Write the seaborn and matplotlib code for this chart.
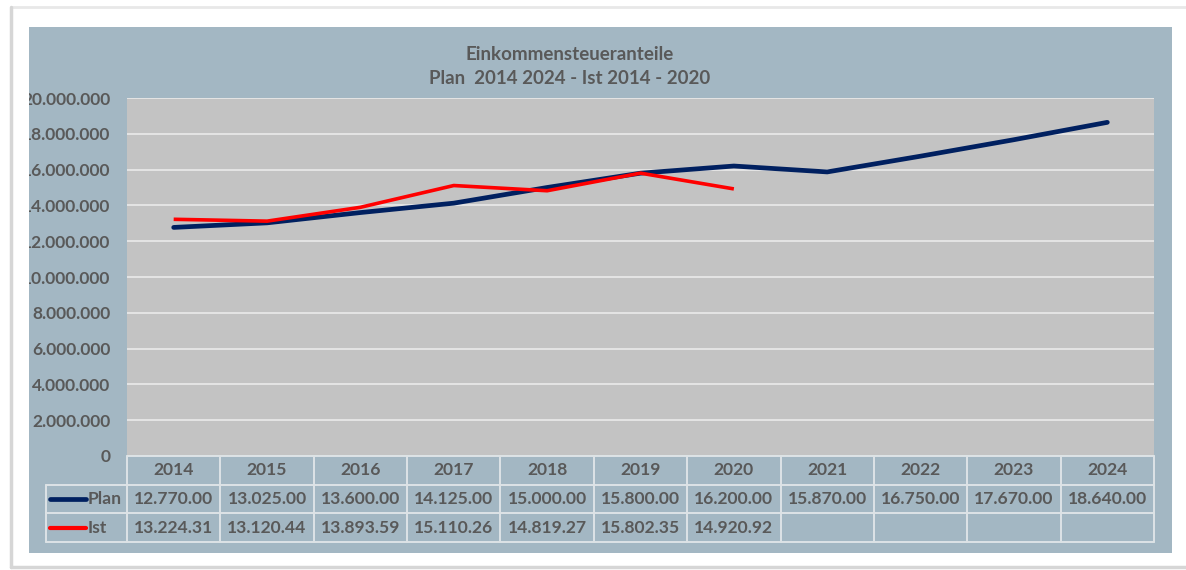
import matplotlib
matplotlib.use("Agg")
import matplotlib.pyplot as plt
import matplotlib.ticker as mticker
from matplotlib.patches import Rectangle
from matplotlib.lines import Line2D
import seaborn as sns
import pandas as pd
import numpy as np

# ---- data ----
years = ["2014", "2015", "2016", "2017", "2018", "2019", "2020", "2021", "2022", "2023", "2024"]
plan_k = [12770.00, 13025.00, 13600.00, 14125.00, 15000.00, 15800.00, 16200.00,
          15870.00, 16750.00, 17670.00, 18640.00]
ist_k = [13224.31, 13120.44, 13893.59, 15110.26, 14819.27, 15802.35, 14920.92]
series_names = ["Plan", "Ist"]
series_colors = ["#002060", "#ff0000"]
title_lines = ["Einkommensteueranteile", "Plan  2014 2024 - Ist 2014 - 2020"]

W, H = 1186, 570
sns.set_theme(style="white")
plt.rcParams["font.family"] = ["Lato", "DejaVu Sans"]
TXT = "#595959"

fig = plt.figure(figsize=(W / 100, H / 100), dpi=100)
fig.patch.set_facecolor("white")

def fx(px):
    return px / W

def fy(py):
    return 1 - py / H

# outer frame (screenshot border)
frame_col = "#d6d6d6"
fig.add_artist(Line2D([fx(11), 1], [fy(7), fy(7)], color="#e8e8e8", lw=2, transform=fig.transFigure))
fig.add_artist(Line2D([fx(11), fx(11)], [fy(7), fy(567)], color=frame_col, lw=2.5, transform=fig.transFigure))
fig.add_artist(Line2D([fx(11), 1], [fy(567), fy(567)], color=frame_col, lw=2.5, transform=fig.transFigure))

# blue-gray chart panel
panel = Rectangle((fx(29), fy(553)), fx(1172) - fx(29), fy(27) - fy(553),
                  transform=fig.transFigure, facecolor="#a3b7c3", edgecolor="none", zorder=0)
fig.add_artist(panel)

# title
fig.text(fx(570), fy(55), title_lines[0], ha="center", va="center", fontsize=13.5,
         color=TXT, fontweight="bold")
fig.text(fx(570), fy(78), title_lines[1], ha="center", va="center", fontsize=13.5,
         color=TXT, fontweight="bold")

# ---- main plot axes ----
pl, pr, pt, pb = 127, 1154, 98, 456
ax = fig.add_axes([fx(pl), fy(pb), fx(pr) - fx(pl), fy(pt) - fy(pb)])
ax.set_facecolor("#c3c3c3")

n = len(years)
df = pd.concat([
    pd.DataFrame({"x": np.arange(n), "value": np.array(plan_k) * 1000, "series": series_names[0]}),
    pd.DataFrame({"x": np.arange(len(ist_k)), "value": np.array(ist_k) * 1000, "series": series_names[1]}),
])
sns.lineplot(data=df[df.series == "Plan"], x="x", y="value", color=series_colors[0],
             lw=3.4, ax=ax, legend=False, solid_capstyle="round", zorder=3)
sns.lineplot(data=df[df.series == "Ist"], x="x", y="value", color=series_colors[1],
             lw=2.6, ax=ax, legend=False, solid_capstyle="butt", zorder=4)

ax.set_xlim(-0.5, n - 0.5)
ax.set_ylim(0, 20_000_000)
ax.set_yticks(np.arange(0, 20_000_001, 2_000_000))
ax.yaxis.set_major_formatter(mticker.FuncFormatter(lambda v, p: f"{int(v):,}".replace(",", ".")))
ax.set_xticks([])
ax.set_xlabel("")
ax.set_ylabel("")
ax.grid(axis="y", color="#e4e4e4", lw=1.4)
ax.set_axisbelow(True)
for s in ax.spines.values():
    s.set_visible(False)
ax.tick_params(axis="y", length=0, pad=12, labelsize=12.5, labelcolor=TXT)
for lab in ax.get_yticklabels():
    lab.set_fontweight("bold")
    lab.set_clip_on(True)
    lab.set_clip_path(panel)

# ---- data table axes ----
tl, tr, tt, tb = 46, 1154, 456, 542
tax = fig.add_axes([fx(tl), fy(tb), fx(tr) - fx(tl), fy(tt) - fy(tb)])
tax.set_facecolor("none")
colw = (pr - pl) / n
xleft = -0.5 - (pl - tl) / colw
tax.set_xlim(xleft, n - 0.5)
tax.set_ylim(0, 3)
tax.axis("off")

bcol = "#dde3e6"
blw = 1.4
tax.plot([-0.5, n - 0.5], [3, 3], color=bcol, lw=blw, clip_on=False)
for yv in [2, 1, 0]:
    tax.plot([xleft, n - 0.5], [yv, yv], color=bcol, lw=blw, clip_on=False)
for i in range(n + 1):
    tax.plot([i - 0.5, i - 0.5], [0, 3], color=bcol, lw=blw, clip_on=False)
tax.plot([xleft, xleft], [0, 2], color=bcol, lw=blw, clip_on=False)

FS = 12.6
fmt = lambda v: f"{v:,.2f}".replace(",", ".")
for i, yr in enumerate(years):
    tax.text(i, 2.5, yr, ha="center", va="center", fontsize=FS, color=TXT, fontweight="bold")
for i, v in enumerate(plan_k):
    tax.text(i, 1.5, fmt(v), ha="center", va="center", fontsize=FS, color=TXT, fontweight="bold")
for i, v in enumerate(ist_k):
    tax.text(i, 0.5, fmt(v), ha="center", va="center", fontsize=FS, color=TXT, fontweight="bold")

# legend keys in row header
px2u = 1 / colw
for row_y, name, col, lw in [(1.5, series_names[0], series_colors[0], 3.4),
                             (0.5, series_names[1], series_colors[1], 3.0)]:
    tax.plot([xleft + 4 * px2u, xleft + 40 * px2u], [row_y, row_y], color=col, lw=lw,
             solid_capstyle="round", clip_on=False)
    tax.text(xleft + 42 * px2u, row_y, name, ha="left", va="center", fontsize=FS,
             color=TXT, fontweight="bold")

fig.savefig("out.png", dpi=100, facecolor=fig.get_facecolor())
